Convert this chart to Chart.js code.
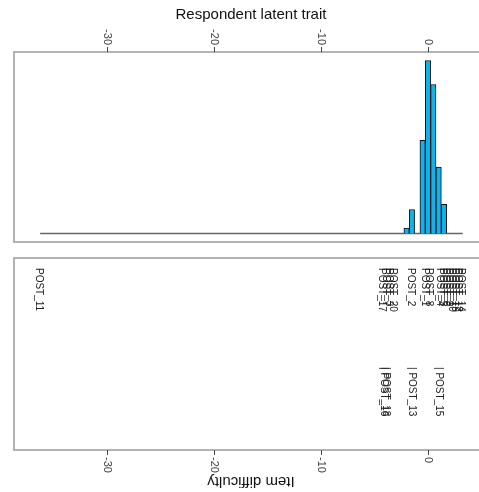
<!DOCTYPE html>
<html><head><meta charset="utf-8">
<script src="https://cdn.jsdelivr.net/npm/chart.js@4"></script>
<style>
html,body{margin:0;padding:0;background:#fff;overflow:hidden;width:479px;height:492px}
#wrapA{position:absolute;left:0;top:0;width:479px;height:250px}
#wrapB{position:absolute;left:0;top:250px;width:479px;height:242px}
</style></head><body>
<div id="wrapA"><canvas id="topChart"></canvas></div>
<div id="wrapB"><canvas id="botChart"></canvas></div>
<script>
// ---- data ----
const binCenters = [-2, -1.5, -0.5, 0, 0.5, 1, 1.5];
const binCounts  = [2, 9, 35, 65, 56, 25, 11];
const binRange   = [-36.25, 3.25];          // extent of the (mostly empty) histogram bins
const tickValues = [-30, -20, -10, 0];
const tickLabels = ['-30', '-20', '-10', '0'];
const itemNames = ['POST_11',
  'POST_17', 'POST_7', 'POST_3', 'POST_20',
  'POST_2',
  'POST_1', 'POST_8',
  'POST_4', 'POST_5', 'POST_6', 'POST_9', 'POST_10', 'POST_19', 'POST_12', 'POST_14',
  '| POST_16', '| POST_18', '| POST_13', '| POST_15'];
const itemDifficulty = [-36.36,
  -4.30, -3.93, -3.64, -3.27,
  -1.59,
  -0.28, 0.09,
  1.12, 1.40, 1.68, 1.96, 2.24, 2.52, 2.80, 3.08,
  -4.15, -3.95, -1.54, 0.98];
const itemRow = [1,
  1, 1, 1, 1,
  1,
  1, 1,
  1, 1, 1, 1, 1, 1, 1, 1,
  2, 2, 2, 2];

// ---- layout / style ----
const X_MIN = -38.69, X_MAX = 4.77;
const FONT = "'Liberation Sans', Arial, sans-serif";
const BOX = '#9a9a9a';

function drawBox(ctx, a, w) {
  ctx.save();
  ctx.strokeStyle = BOX; ctx.lineWidth = 1.5;
  ctx.beginPath();
  ctx.moveTo(w + 5, a.top); ctx.lineTo(a.left, a.top);
  ctx.lineTo(a.left, a.bottom); ctx.lineTo(w + 5, a.bottom);
  ctx.stroke();
  ctx.restore();
}

const topPlugin = {
  id: 'topDeco',
  afterDraw(chart) {
    const ctx = chart.ctx, a = chart.chartArea, xs = chart.scales.x;
    drawBox(ctx, a, chart.width);
    ctx.save();
    ctx.strokeStyle = '#444'; ctx.lineWidth = 1;
    ctx.fillStyle = '#444'; ctx.font = '11px ' + FONT;
    tickValues.forEach((v, i) => {
      const x = Math.round(xs.getPixelForValue(v)) + 0.5;
      ctx.beginPath(); ctx.moveTo(x, a.top - 5); ctx.lineTo(x, a.top); ctx.stroke();
      ctx.save();
      ctx.translate(x, a.top - 7); ctx.rotate(Math.PI / 2);
      ctx.textAlign = 'right'; ctx.textBaseline = 'middle';
      ctx.fillText(tickLabels[i], 0, 0);
      ctx.restore();
    });
    ctx.fillStyle = '#111'; ctx.font = '15px ' + FONT;
    ctx.textAlign = 'center'; ctx.textBaseline = 'middle';
    ctx.fillText('Respondent latent trait', 251, 15);
    ctx.restore();
  }
};

const botPlugin = {
  id: 'botDeco',
  afterDraw(chart) {
    const ctx = chart.ctx, a = chart.chartArea, xs = chart.scales.x;
    drawBox(ctx, a, chart.width);
    ctx.save();
    ctx.strokeStyle = '#444'; ctx.lineWidth = 1;
    ctx.fillStyle = '#444'; ctx.font = '11px ' + FONT;
    tickValues.forEach((v, i) => {
      const x = Math.round(xs.getPixelForValue(v)) + 0.5;
      ctx.beginPath(); ctx.moveTo(x, a.bottom); ctx.lineTo(x, a.bottom + 5); ctx.stroke();
      ctx.save();
      ctx.translate(x, a.bottom + 7); ctx.rotate(Math.PI / 2);
      ctx.textAlign = 'left'; ctx.textBaseline = 'middle';
      ctx.fillText(tickLabels[i], 0, 0);
      ctx.restore();
    });
    // item labels, positioned by the scatter points
    const meta = chart.getDatasetMeta(0);
    ctx.fillStyle = '#222'; ctx.font = '10px ' + FONT;
    meta.data.forEach((pt, i) => {
      ctx.save();
      ctx.translate(pt.x, pt.y); ctx.rotate(Math.PI / 2);
      ctx.textAlign = 'left'; ctx.textBaseline = 'middle';
      ctx.fillText(itemNames[i], 0, 0);
      ctx.restore();
    });
    // upside-down axis title
    ctx.save();
    ctx.fillStyle = '#111'; ctx.font = '15px ' + FONT;
    ctx.translate(251, a.bottom + 31); ctx.rotate(Math.PI);
    ctx.textAlign = 'center'; ctx.textBaseline = 'middle';
    ctx.fillText('Item difficulty', 0, 0);
    ctx.restore();
    ctx.restore();
  }
};

const common = {
  responsive: true, maintainAspectRatio: false, animation: false, devicePixelRatio: 1,
  plugins: { legend: { display: false }, tooltip: { enabled: false } }
};

new Chart(document.getElementById('topChart'), {
  data: {
    datasets: [
      { type: 'bar', data: binCenters.map((c, i) => ({ x: c, y: binCounts[i] })),
        backgroundColor: '#10b2ec', borderColor: '#111', borderWidth: 1,
        barPercentage: 1, categoryPercentage: 1, order: 1 },
      { type: 'line', data: binRange.map(v => ({ x: v, y: 0 })),
        borderColor: '#666', borderWidth: 1.5, pointRadius: 0, order: 2 }
    ]
  },
  options: Object.assign({}, common, {
    layout: { padding: { left: 14, right: 0, top: 52, bottom: 8 } },
    scales: {
      x: { type: 'linear', min: X_MIN, max: X_MAX, offset: false, display: false },
      y: { type: 'linear', min: -3.2, max: 68.2, display: false }
    }
  }),
  plugins: [topPlugin]
});

new Chart(document.getElementById('botChart'), {
  type: 'scatter',
  data: {
    datasets: [
      { data: itemDifficulty.map((d, i) => ({ x: d, y: itemRow[i] })), pointRadius: 0 }
    ]
  },
  options: Object.assign({}, common, {
    layout: { padding: { left: 14, right: 0, top: 8, bottom: 42 } },
    scales: {
      x: { type: 'linear', min: X_MIN, max: X_MAX, display: false },
      y: { type: 'linear', min: 0.899, max: 2.838, reverse: true, display: false }
    }
  }),
  plugins: [botPlugin]
});
</script>
</body></html>
